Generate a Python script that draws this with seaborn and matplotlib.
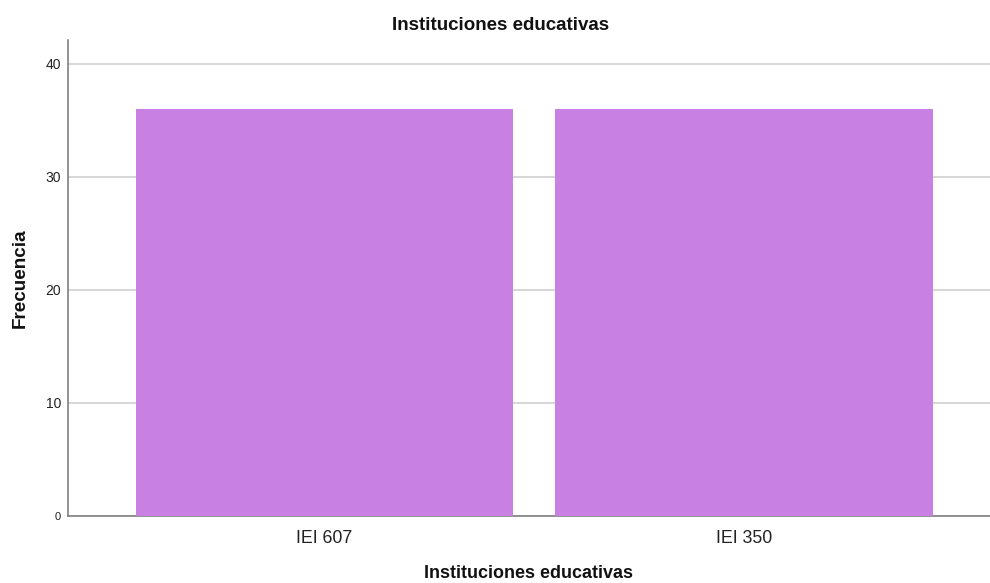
import matplotlib
matplotlib.use("Agg")
import matplotlib.pyplot as plt
import seaborn as sns
import pandas as pd

categories = ["IEI 607", "IEI 350"]
frequencies = [36, 36]
y_ticks = [0, 10, 20, 30, 40]

sns.set_theme(style="white")
plt.rcParams['font.family'] = ['Liberation Sans', 'DejaVu Sans']

df = pd.DataFrame({"cat": categories, "freq": frequencies})

fig = plt.figure(figsize=(9.9, 5.83), dpi=100)
ax = fig.add_axes([68/990, 1-516/583, 1-68/990, (516-40)/583])

sns.barplot(data=df, x="cat", y="freq", color="#C980E3", saturation=1,
            width=0.9, ax=ax, edgecolor="none", zorder=3)

ax.set_ylim(0, 42.1)
ax.set_xlim(-0.611, 1.585)
ax.set_yticks(y_ticks)
ax.set_yticklabels([str(v) for v in y_ticks], fontsize=10, color="#222222")
ax.get_yticklabels()[0].set_fontsize(8)
ax.tick_params(axis="x", labelsize=12.8, colors="#222222", length=0, pad=10)
ax.tick_params(axis="y", length=0, pad=5)
ax.yaxis.grid(True, color="#d0d0d0", linewidth=1.2, zorder=0)
ax.set_axisbelow(True)

for s in ["top", "right"]:
    ax.spines[s].set_visible(False)
for s in ["left", "bottom"]:
    ax.spines[s].set_color("#808080")
    ax.spines[s].set_linewidth(1.2)

ax.set_xlabel("Instituciones educativas", fontsize=12.9, fontweight="bold",
              color="#111111", va="center")
ax.set_ylabel("Frecuencia", fontsize=13.6, fontweight="bold", color="#111111",
              va="center")
ax.xaxis.set_label_coords((529-68)/922, -(574-516)/476)
ax.yaxis.set_label_coords((20-68)/922, (516-278)/476)
fig.text(500.5/990, 1-26/583, "Instituciones educativas", ha="center", va="center",
         fontsize=13.5, fontweight="bold", color="#111111")

fig.savefig("out.png", dpi=100, facecolor="white")
